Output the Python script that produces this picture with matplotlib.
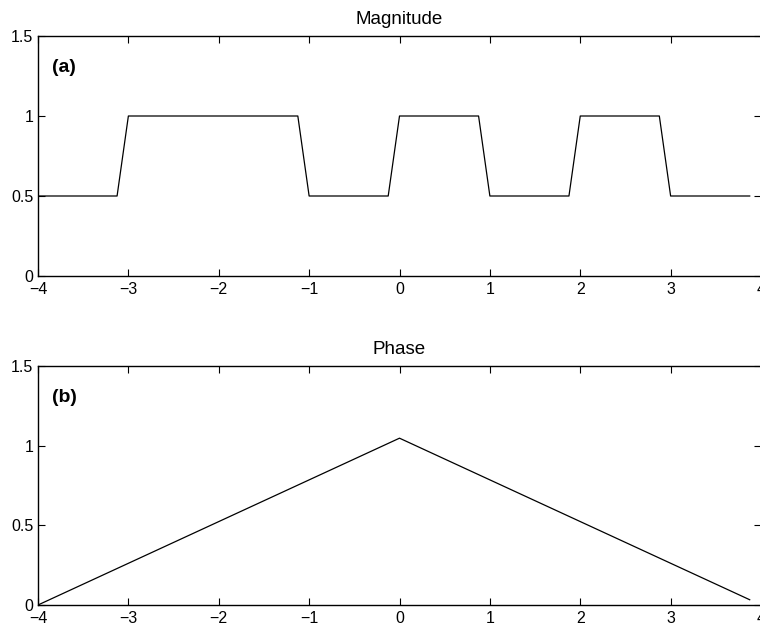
import matplotlib
matplotlib.use("Agg")
import matplotlib.pyplot as plt

plt.rcParams['font.family'] = ['Liberation Sans', 'DejaVu Sans']

# Magnitude breakpoints
mag_x = [-4, -3.125, -3, -1.125, -1, -0.125, 0, 0.875, 1, 1.875, 2, 2.875, 3, 3.875]
mag_y = [0.5, 0.5, 1, 1, 0.5, 0.5, 1, 1, 0.5, 0.5, 1, 1, 0.5, 0.5]
# Phase breakpoints
ph_x = [-4, 0, 3.875]
ph_y = [0.0, 1.047, 0.033]

x_ticks = [-4, -3, -2, -1, 0, 1, 2, 3, 4]
y_ticks = [0, 0.5, 1, 1.5]
y_tick_labels = ['0', '0.5', '1', '1.5']
titles = ['Magnitude', 'Phase']
panel_labels = ['(a)', '(b)']

W, H = 760, 627
fig = plt.figure(figsize=(W / 100, H / 100), dpi=100)
left = 38 / W
right = 761 / W
ax1 = fig.add_axes([left, 1 - 276 / H, right - left, 240 / H])
ax2 = fig.add_axes([left, 1 - 605 / H, right - left, 239 / H])

for ax, (xs, ys), title, lab in zip([ax1, ax2], [(mag_x, mag_y), (ph_x, ph_y)], titles, panel_labels):
    ax.plot(xs, ys, color='black', linewidth=0.9)
    ax.set_xlim(-4, 4)
    ax.set_ylim(0, 1.5)
    ax.set_xticks(x_ticks)
    ax.set_xticklabels(['\u2212%d' % -t if t < 0 else '%d' % t for t in x_ticks])
    ax.set_yticks(y_ticks)
    ax.set_yticklabels(y_tick_labels)
    ax.tick_params(direction='in', top=True, right=True, length=5, width=0.8,
                   labelsize=11.5)
    ax.tick_params(axis='y', pad=3.5)
    ax.tick_params(axis='x', pad=4.5)
    for s in ax.spines.values():
        s.set_linewidth(1.0)
    ax.set_title(title, fontsize=13.5, pad=9)
    ax.text(0.020, 0.867, lab, transform=ax.transAxes, fontsize=14, fontweight='bold',
            va='center', ha='left')

fig.savefig('out.png', dpi=100)
